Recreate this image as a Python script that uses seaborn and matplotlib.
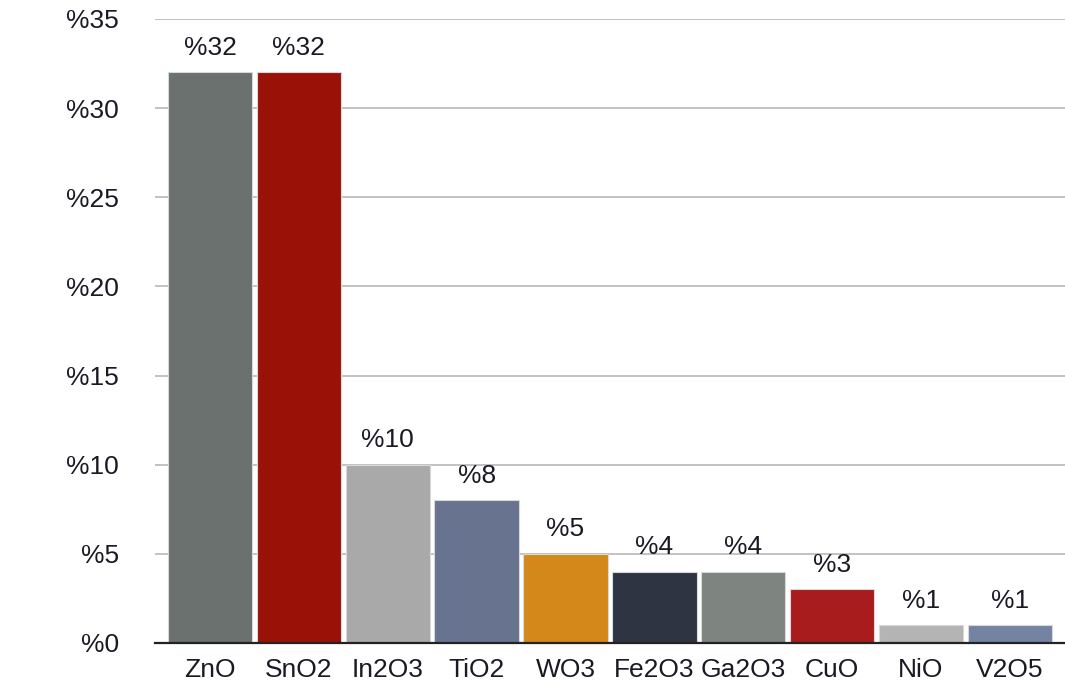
import matplotlib
matplotlib.use("Agg")
import matplotlib.pyplot as plt
import seaborn as sns
import pandas as pd

# Metal-oxide materials and their share (%)
materials = ["ZnO", "SnO2", "In2O3", "TiO2", "WO3", "Fe2O3", "Ga2O3", "CuO", "NiO", "V2O5"]
shares = [32, 32, 10, 8, 5, 4, 4, 3, 1, 1]
colors = ["#6b716e", "#9a1107", "#a9a9a9", "#67738f", "#d4881a",
          "#2e3442", "#7e8581", "#a81c1d", "#b4b4b4", "#7383a1"]
yticks = [0, 5, 10, 15, 20, 25, 30, 35]

df = pd.DataFrame({"material": materials, "share": shares})

sns.set_theme(style="white")
plt.rcParams["font.family"] = ["Liberation Sans", "DejaVu Sans"]

fig = plt.figure(figsize=(10.65, 6.83), dpi=100)
ax = fig.add_axes([0.1455, 0.0586, 0.8545, 0.9136])

sns.barplot(data=df, x="material", y="share", hue="material",
            palette=colors, legend=False, width=0.95, ax=ax,
            edgecolor="#d8d8d8", linewidth=0.8, saturation=1)

ax.set_ylim(0, 35)
ax.set_xlim(-0.62, len(materials) - 0.38)
ax.set_yticks(yticks)
ax.set_yticklabels([f"%{v}" for v in yticks], fontsize=19, color="#1a1a24")
ax.tick_params(axis="y", length=0, pad=26)
ax.tick_params(axis="x", length=0, pad=11, labelsize=19, labelcolor="#1a1a24")
ax.set_xlabel("")
ax.set_ylabel("")

ax.yaxis.grid(True, color="#b8b8b8", linewidth=1.2)
ax.set_axisbelow(True)
for side in ["top", "right", "left"]:
    ax.spines[side].set_visible(False)
ax.spines["bottom"].set_color("#222222")
ax.spines["bottom"].set_linewidth(1.6)

for i, v in enumerate(shares):
    ax.annotate(f"%{v}", (i, v), xytext=(0, 9), textcoords="offset points",
                ha="center", va="bottom", fontsize=19, color="#1a1a24")

fig.savefig("out.png", dpi=100)
